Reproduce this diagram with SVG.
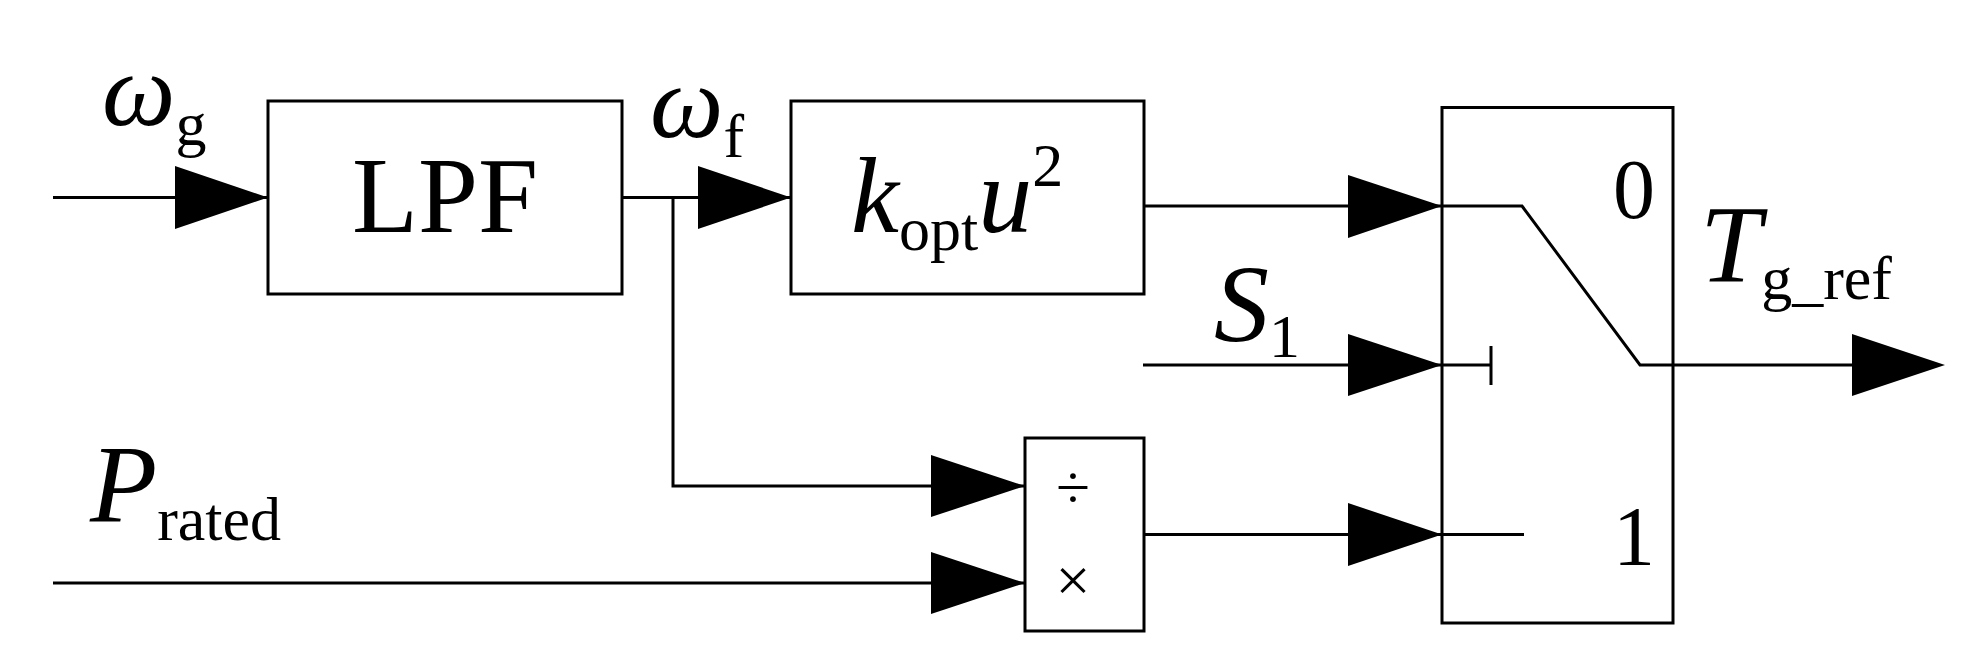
<svg xmlns="http://www.w3.org/2000/svg" width="1974" height="669" viewBox="0 0 1974 669">
<style>
.l{fill:none;stroke:#000;stroke-width:3}
.b{fill:#fff;stroke:#000;stroke-width:3}
.a{fill:#000}
text{font-family:"Liberation Serif","Times New Roman",serif;fill:#000}
.i{font-style:italic}
</style>
<rect width="1974" height="669" fill="#fff"/>
<g id="connectors">
<path class="l" d="M53 197.5H268"/>
<polygon class="a" points="175,166 268,197.5 175,229"/>
<path class="l" d="M622 197.5H791M673 197.5V486H1025"/>
<polygon class="a" points="698,166 791,197.5 698,229"/>
<polygon class="a" points="931,455 1025,486 931,517"/>
<path class="l" d="M53 583H1025"/>
<polygon class="a" points="931,552 1025,583 931,614"/>
<path class="l" d="M1144 206H1442"/>
<polygon class="a" points="1348,175 1442,206 1348,238"/>
<path class="l" d="M1143 365H1442"/>
<polygon class="a" points="1348,334 1442,365 1348,396"/>
<path class="l" d="M1144 534.5H1442"/>
<polygon class="a" points="1348,503 1442,534.5 1348,566"/>
<path class="l" d="M1640 365H1852"/>
<polygon class="a" points="1852,334 1945,365 1852,396"/>
</g>
<g id="lpf"><rect class="b" x="268" y="101" width="354" height="193"/><text x="445" y="232" font-size="108" text-anchor="middle">LPF</text></g>
<g id="kopt"><rect class="b" x="791" y="101" width="353" height="193"/><text x="851" y="232" font-size="108" class="i">k<tspan font-size="62" font-style="normal" dy="18">opt</tspan><tspan dy="-18">u</tspan><tspan font-size="62" font-style="normal" dy="-46">2</tspan></text></g>
<g id="divmul"><rect class="b" x="1025" y="438" width="119" height="193"/><text x="1073" y="508" font-size="62" text-anchor="middle">÷</text><text x="1073" y="601" font-size="62" text-anchor="middle">×</text></g>
<g id="switch"><rect class="b" x="1442" y="107.5" width="231" height="515.5"/>
<path class="l" d="M1442 206H1522L1640 365H1673M1442 365H1491M1491 346V385M1442 534.5H1524"/>
<text x="1634" y="218" font-size="84" text-anchor="middle">0</text>
<text x="1634" y="565" font-size="84" text-anchor="middle">1</text></g>
<g id="labels">
<text x="102" y="125" font-size="104" class="i">ω<tspan font-size="62" font-style="normal" dy="20">g</tspan></text>
<text x="650" y="137" font-size="104" class="i">ω<tspan font-size="62" font-style="normal" dy="20">f</tspan></text>
<text x="90" y="521" font-size="110" class="i">P<tspan font-size="62" font-style="normal" dy="19">rated</tspan></text>
<text x="1214" y="341" font-size="110" class="i">S<tspan font-size="62" font-style="normal" dy="16">1</tspan></text>
<text x="1700" y="282" font-size="110" class="i">T<tspan font-size="62" font-style="normal" dy="17">g_ref</tspan></text>
</g>
</svg>
